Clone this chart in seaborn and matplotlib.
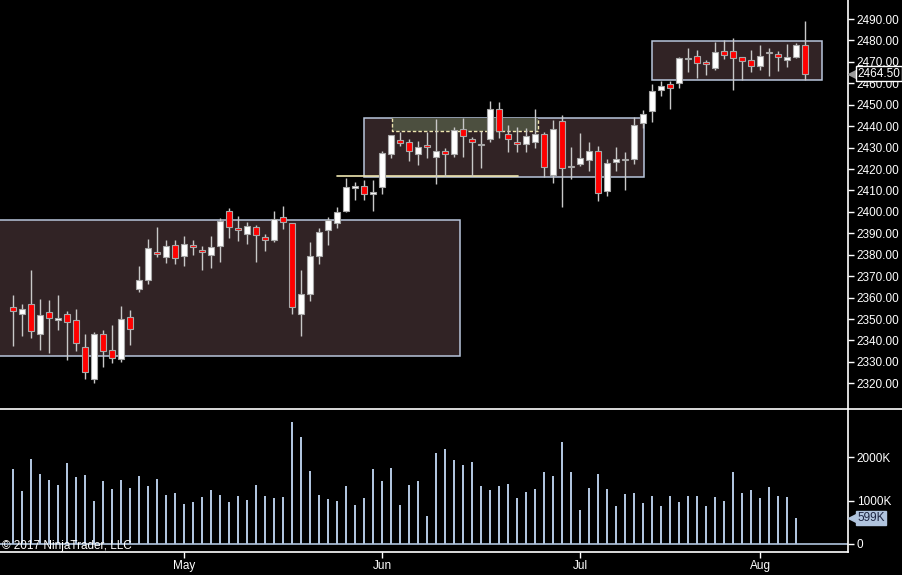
import numpy as np
import pandas as pd
import matplotlib
matplotlib.use("Agg")
import matplotlib.pyplot as plt
import seaborn as sns
from matplotlib.patches import Rectangle
from matplotlib.lines import Line2D
from matplotlib.transforms import blended_transform_factory, offset_copy

# ---------------- data ----------------
opens = [2355.5, 2352.2, 2357.0, 2343.1, 2353.1, 2349.4, 2352.2, 2349.4, 2336.8, 2321.9,
         2342.9, 2335.4, 2331.2, 2350.8, 2363.9, 2368.1, 2381.1, 2379.1, 2384.4, 2379.3,
         2384.4, 2382.1, 2379.7, 2383.9, 2400.3, 2392.3, 2389.5, 2392.8, 2388.1, 2386.7,
         2397.5, 2394.7, 2352.5, 2361.8, 2379.5, 2391.4, 2394.9, 2400.5, 2411.0, 2411.9,
         2408.5, 2411.7, 2427.1, 2433.4, 2432.5, 2427.1, 2430.6, 2425.5, 2428.3, 2426.9,
         2438.5, 2433.9, 2431.3, 2433.9, 2447.9, 2436.2, 2432.0, 2431.5, 2432.5, 2436.2,
         2417.1, 2442.3, 2421.1, 2422.2, 2424.1, 2428.3, 2409.7, 2423.3, 2424.2, 2424.8,
         2441.3, 2446.9, 2457.0, 2459.5, 2460.0, 2471.3, 2472.6, 2469.8, 2467.3, 2475.2,
         2474.9, 2472.1, 2470.7, 2468.2, 2474.3, 2473.5, 2471.0, 2472.4, 2477.7]
highs = [2361.2, 2357.0, 2372.9, 2359.3, 2358.9, 2361.2, 2353.7, 2354.7, 2343.0, 2344.1,
         2344.9, 2347.2, 2356.1, 2354.2, 2374.7, 2387.3, 2392.8, 2386.7, 2386.7, 2388.6,
         2386.7, 2383.9, 2388.6, 2397.0, 2401.8, 2398.1, 2395.1, 2393.7, 2389.5, 2400.4,
         2402.7, 2395.0, 2372.9, 2385.9, 2392.3, 2397.6, 2402.3, 2415.8, 2413.9, 2414.9,
         2414.9, 2428.4, 2436.0, 2437.4, 2434.0, 2433.1, 2437.4, 2443.3, 2429.7, 2439.5,
         2443.7, 2434.8, 2437.7, 2451.7, 2451.1, 2440.4, 2439.6, 2439.0, 2447.9, 2437.4,
         2442.9, 2445.2, 2430.4, 2436.7, 2432.6, 2430.7, 2424.8, 2430.4, 2428.1, 2444.1,
         2447.5, 2459.5, 2461.2, 2461.2, 2472.1, 2476.5, 2475.5, 2470.9, 2479.3, 2480.2,
         2481.1, 2472.2, 2475.5, 2477.9, 2476.5, 2475.1, 2478.3, 2478.7, 2489.1]
lows = [2337.4, 2342.1, 2341.1, 2335.5, 2334.3, 2344.9, 2330.9, 2335.2, 2321.9, 2320.3,
        2327.8, 2329.3, 2330.1, 2337.9, 2362.7, 2366.2, 2379.1, 2376.3, 2375.8, 2374.9,
        2379.7, 2373.0, 2373.9, 2376.7, 2387.7, 2386.5, 2385.1, 2376.7, 2381.9, 2385.8,
        2391.9, 2352.3, 2342.1, 2358.5, 2375.8, 2384.5, 2392.5, 2400.1, 2405.5, 2405.5,
        2400.4, 2408.5, 2425.0, 2430.9, 2423.9, 2421.9, 2425.0, 2412.9, 2416.7, 2425.5,
        2425.7, 2416.7, 2420.3, 2432.7, 2434.3, 2428.1, 2427.8, 2428.1, 2429.8, 2416.1,
        2413.6, 2402.4, 2415.2, 2421.4, 2419.2, 2405.2, 2407.4, 2419.2, 2410.2, 2422.3,
        2439.3, 2442.1, 2454.1, 2448.1, 2457.9, 2465.3, 2462.5, 2463.7, 2466.3, 2471.5,
        2456.9, 2461.5, 2465.4, 2466.2, 2463.5, 2465.9, 2467.7, 2471.9, 2461.5]
closes = [2353.9, 2354.5, 2344.3, 2351.9, 2350.3, 2350.3, 2348.7, 2338.7, 2325.1, 2343.0,
          2335.1, 2331.7, 2349.9, 2345.2, 2368.0, 2383.0, 2380.2, 2383.9, 2378.3, 2384.9,
          2383.5, 2381.1, 2383.5, 2395.6, 2392.8, 2391.4, 2393.3, 2389.1, 2386.7, 2396.5,
          2395.1, 2355.5, 2361.5, 2379.3, 2390.6, 2396.1, 2399.9, 2411.6, 2411.9, 2408.5,
          2409.3, 2427.3, 2435.9, 2432.3, 2428.5, 2430.1, 2430.5, 2428.3, 2426.9, 2438.1,
          2435.3, 2432.5, 2431.2, 2447.9, 2437.6, 2433.9, 2431.9, 2435.2, 2436.2, 2420.8,
          2438.5, 2420.3, 2421.0, 2425.0, 2428.4, 2408.7, 2422.7, 2424.5, 2424.1, 2440.4,
          2445.5, 2456.3, 2458.6, 2457.9, 2471.7, 2471.4, 2469.6, 2468.9, 2474.5, 2473.3,
          2471.9, 2470.5, 2468.2, 2472.7, 2474.2, 2472.1, 2472.1, 2477.9, 2464.5]
volumes_k = [1732, 1224, 1963, 1617, 1478, 1363, 1871, 1547, 1594, 993,
             1455, 1270, 1478, 1293, 1570, 1340, 1501, 1132, 1178, 924,
             970, 1085, 1247, 1132, 970, 1109, 1016, 1363, 1109, 1062,
             1085, 2818, 2471, 1686, 1132, 1039, 993, 1340, 900, 1062,
             1732, 1455, 1755, 900, 1363, 1455, 647, 2102, 2194, 1940,
             1824, 1894, 1340, 1247, 1340, 1386, 1062, 1201, 1270, 1663,
             1570, 2356, 1663, 785, 1293, 1617, 1270, 878, 1155, 1178,
             947, 1109, 878, 1109, 970, 1109, 1109, 878, 1085, 993,
             1663, 1178, 1247, 1062, 1316, 1109, 1085, 599]

holidays = ["2017-04-14", "2017-05-29", "2017-07-04"]
dates = pd.bdate_range("2017-04-03", "2017-08-08", freq="C", holidays=holidays)

price_ticks = list(range(2320, 2491, 10))
volume_ticks = [0, 1000, 2000]
volume_tick_labels = ["0", "1000K", "2000K"]

# zones (bar index start/end, price low/high)
zone_start = [-3.0, 39.0, 71.0]
zone_end = [49.67, 70.1, 89.9]
zone_low = [2332.7, 2416.3, 2461.4]
zone_high = [2396.1, 2443.7, 2479.6]
band_start, band_end, band_low, band_high = 42.1, 58.3, 2437.7, 2443.7
level_start, level_end, level_price = 36.0, 56.1, 2416.7

copyright_text = "\u00a9 2017 NinjaTrader, LLC"

# ---------------- style ----------------
sns.set_theme(style="dark", rc={
    "axes.facecolor": "black", "figure.facecolor": "black",
    "axes.edgecolor": "white", "axes.grid": False,
    "xtick.color": "white", "ytick.color": "white",
    "text.color": "white",
})
plt.rcParams["font.family"] = ["Liberation Sans", "DejaVu Sans"]

W, H = 903, 575
fig = plt.figure(figsize=(W / 100, H / 100), dpi=100)
axis_x = 848.3
split_y = 409
bottom_y = 552
ax = fig.add_axes([0, 1 - split_y / H, axis_x / W, split_y / H])
axv = fig.add_axes([0, 1 - bottom_y / H, axis_x / W, (bottom_y - split_y) / H])

n = len(opens)
x = np.arange(n)
o = np.array(opens); c = np.array(closes); hi = np.array(highs); lo = np.array(lows)

BOX_FILL = "#312325"
BOX_EDGE = "#b8c6dc"
STEEL = "#b0c4de"

# zones
for xs, xe, yl, yh in zip(zone_start, zone_end, zone_low, zone_high):
    ax.add_patch(Rectangle((xs, yl), xe - xs, yh - yl, facecolor=BOX_FILL,
                           edgecolor=BOX_EDGE, linewidth=1.1, zorder=1))
ax.add_patch(Rectangle((band_start, band_low), band_end - band_start, band_high - band_low,
                       facecolor="#4c4f3f", edgecolor="none", zorder=1.5))
ax.plot([band_start, band_start, band_end, band_end],
        [band_high, band_low, band_low, band_high],
        color="#efe6b0", lw=1, ls=(0, (2.5, 1.5)), zorder=2)
ax.plot([level_start, level_end], [level_price, level_price], color="#efe6b0", lw=1.2, zorder=2)

# candles
ax.vlines(x, lo, hi, color="#c8c8c8", lw=1, zorder=3)
bottoms = np.minimum(o, c)
heights = np.maximum(np.abs(c - o), 0.6)
colors = np.where(c >= o, "#ffffff", "#ff0000")
ax.bar(x, heights, bottom=bottoms, width=0.68, color=colors,
       edgecolor="#a8a8a8", linewidth=0.8, zorder=4)

# volume (seaborn)
xv = np.arange(len(volumes_k))
sns.barplot(x=xv, y=volumes_k, native_scale=True, color=STEEL, saturation=1,
            width=0.24, linewidth=0, errorbar=None, ax=axv, zorder=3)
axv.axhline(0, color=STEEL, lw=1.2, zorder=2)

xlim = (-1.478, 92.78)
ax.set_xlim(*xlim)
axv.set_xlim(*xlim)
ax.set_ylim(2308.0, 2498.9)
axv.set_ylim(-185, 3118)

# axes styling
for a in (ax, axv):
    for s in ("top", "left"):
        a.spines[s].set_visible(False)
    a.spines["right"].set_color("white")
    a.spines["right"].set_linewidth(1.2)
    a.set_xlabel(""); a.set_ylabel("")
    a.yaxis.tick_right()
    a.tick_params(axis="y", direction="out", length=4, width=1, color="white",
                  labelcolor="white", labelsize=8.5, pad=2)
ax.spines["bottom"].set_visible(False)
axv.spines["bottom"].set_color("white")
axv.spines["bottom"].set_linewidth(1.2)

ax.set_yticks(price_ticks)
ax.set_yticklabels([f"{v:.2f}" for v in price_ticks])
ax.set_xticks([])
axv.set_yticks(volume_ticks)
axv.set_yticklabels(volume_tick_labels)

month_idx = [i for i in range(1, n) if dates[i].month != dates[i - 1].month]
axv.set_xticks(month_idx)
axv.set_xticklabels([dates[i].strftime("%b") for i in month_idx])
axv.tick_params(axis="x", direction="out", length=4, width=1, color="white",
                labelcolor="white", labelsize=8.5, pad=2, bottom=True)

# divider line across the full width
fig.add_artist(Line2D([0, 1], [1 - split_y / H, 1 - split_y / H], transform=fig.transFigure,
                      color="white", lw=1.2))

# last price marker
tr = blended_transform_factory(ax.transAxes, ax.transData)
ax.plot([1.0], [closes[-1]], marker="<", markersize=7, color="#9a9a9a", clip_on=False,
        transform=offset_copy(tr, fig=fig, x=5, y=0, units="dots"), zorder=6)
ax.text(1.0, closes[-1], f"{closes[-1]:.2f}", transform=offset_copy(tr, fig=fig, x=9, y=0, units="dots"),
        ha="left", va="center", fontsize=8.5, color="white", clip_on=False, zorder=7,
        bbox=dict(boxstyle="square,pad=0.12", fc="black", ec="white", lw=1))

# last volume marker
trv = blended_transform_factory(axv.transAxes, axv.transData)
axv.plot([1.0], [volumes_k[-1]], marker="<", markersize=7, color=STEEL, clip_on=False,
         transform=offset_copy(trv, fig=fig, x=5, y=0, units="dots"), zorder=6)
axv.text(1.0, volumes_k[-1], f"{volumes_k[-1]}K", transform=offset_copy(trv, fig=fig, x=9, y=0, units="dots"),
         ha="left", va="center", fontsize=8.5, color="#1c2440", clip_on=False, zorder=7,
         bbox=dict(boxstyle="square,pad=0.12", fc=STEEL, ec=STEEL, lw=1))

fig.text(2 / W, 1 - 546 / H, copyright_text, ha="left", va="center", fontsize=8.5, color="white")

fig.savefig("out.png", dpi=100, facecolor="black")
